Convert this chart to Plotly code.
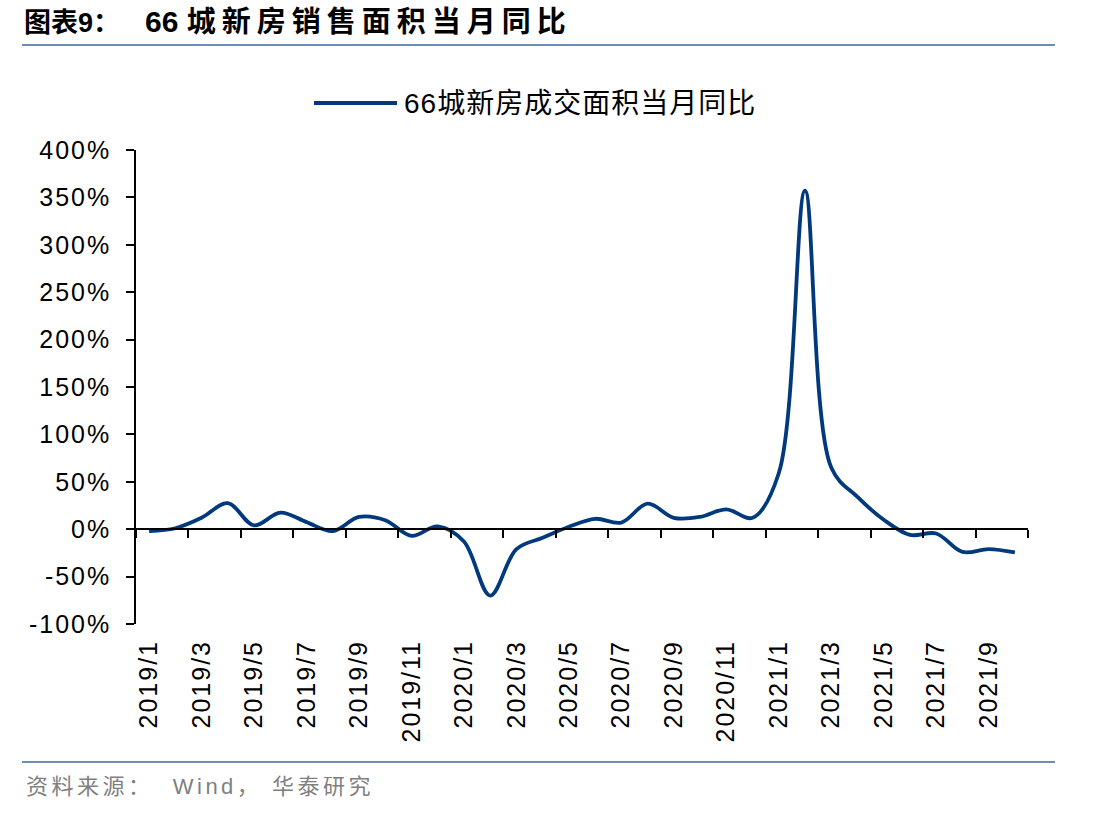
import plotly.graph_objects as go

months = [f"{y}/{m}" for y in (2019, 2020, 2021) for m in range(1, 13)][:34]
values = [-2, 1, 12, 27.5, 4, 17.5, 7.5, -2, 13, 9.5, -7, 3,
          -13, -70, -21, -9, 2.5, 11, 7, 27, 12, 13, 21, 12,
          59, 357, 65, 34, 10, -6, -4.5, -24, -21, -24.5]
series_name = "66城新房成交面积当月同比"
title_a = "图表9："
title_b = "66"
title_c = "城新房销售面积当月同比"
source_text = "资料来源：\u00a0\u00a0Wind，\u00a0华泰研究"
y_ticks = list(range(-100, 401, 50))

idx = list(range(len(months)))
boundaries = [i - 0.5 for i in range(0, len(months) + 1, 2)]
label_pos = idx[::2]
label_txt = months[::2]

W, H = 1112, 816
L, R, T, B = 136, 84, 150, 192
pw, ph = W - L - R, H - T - B

def px2x(px):
    return (px - L) / pw

def px2y(py):
    return (H - B - py) / ph

def sp(text, ls):
    return f'<span style="letter-spacing:{ls}px">{text}</span>'

color = "#003A7D"
font_main = "Liberation Sans, Arial, Noto Sans CJK SC"

fig = go.Figure()
fig.add_trace(go.Scatter(x=idx, y=values, mode="lines", line=dict(color=color, width=3.8, shape="spline", smoothing=1.0),
                         name=series_name, showlegend=False, xaxis="x", yaxis="y"))
fig.add_trace(go.Scatter(x=idx, y=[None] * len(idx), mode="lines", showlegend=False, hoverinfo="skip", xaxis="x2", yaxis="y"))

fig.update_layout(
    width=W, height=H, margin=dict(l=L, r=R, t=T, b=B),
    paper_bgcolor="white", plot_bgcolor="white",
    font=dict(family=font_main, size=25, color="black"),
    xaxis=dict(range=[-0.5, len(months) - 0.5], anchor="free", position=0.2,
               showline=True, linecolor="black", linewidth=1.5,
               ticks="outside", ticklen=8, tickwidth=1.5, tickcolor="black",
               tickvals=boundaries, showticklabels=False, showgrid=False, zeroline=False),
    xaxis2=dict(range=[-0.5, len(months) - 0.5], overlaying="x", side="bottom", anchor="y",
                showline=False, ticks="", tickvals=label_pos, ticktext=[sp(t, 2) for t in label_txt], tickangle=-90,
                ticklabelstandoff=10,
                tickfont=dict(size=25, family=font_main), showgrid=False, zeroline=False),
    yaxis=dict(range=[-100, 400], tickvals=y_ticks,
               ticktext=[sp(f"{v}%", 2) for v in y_ticks],
               showline=True, linecolor="black", linewidth=1.5,
               ticks="outside", ticklen=8, tickwidth=1.5, tickcolor="black", ticklabelstandoff=10,
               showgrid=False, zeroline=False, tickfont=dict(size=25, family=font_main)),
)

# header / footer rules
for py in (45, 762):
    fig.add_shape(type="line", xref="paper", yref="paper", x0=px2x(22), x1=px2x(1055), y0=px2y(py), y1=px2y(py),
                  line=dict(color="#6D8DB8", width=2))

title_html = (f'<b><span style="font-size:27px">{title_a}</span>'
              f'<span style="font-size:30px">   {title_b} </span>'
              f'<span style="font-size:29px;letter-spacing:6px">{title_c}</span></b>')
fig.add_annotation(text=title_html, xref="paper", yref="paper", x=px2x(22), y=px2y(22),
                   xanchor="left", yanchor="middle", showarrow=False,
                   font=dict(size=28, family="Liberation Sans, Noto Sans CJK SC", color="black"))
fig.add_annotation(text=sp(source_text, 3.5), xref="paper", yref="paper", x=px2x(24), y=px2y(786),
                   xanchor="left", yanchor="middle", showarrow=False,
                   font=dict(size=22, family="Liberation Sans, Noto Sans CJK SC", color="#7F7F7F"))

# legend (manual, long sample line)
fig.add_shape(type="line", xref="paper", yref="paper", x0=px2x(314), x1=px2x(397), y0=px2y(103), y1=px2y(103),
              line=dict(color=color, width=3.8))
fig.add_annotation(text=sp(series_name, 1), xref="paper", yref="paper", x=px2x(402), y=px2y(103),
                   xanchor="left", yanchor="middle", showarrow=False,
                   font=dict(size=28, family="Liberation Sans, Noto Sans CJK SC", color="black"))

fig.write_html("out.html")
